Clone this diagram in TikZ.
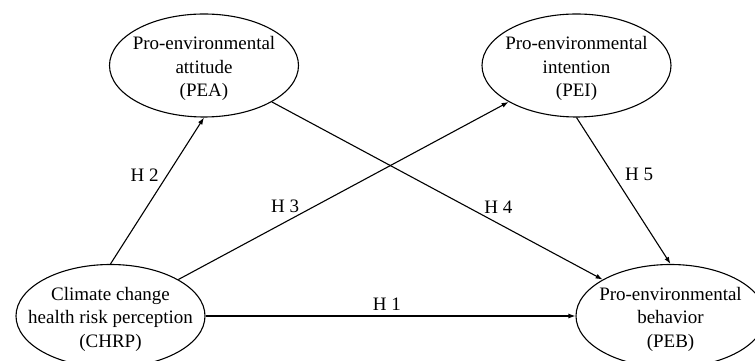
\documentclass[tikz,border=0pt]{standalone}
\usepackage{fontspec}
\setmainfont{Liberation Serif}
\usetikzlibrary{shapes.geometric, arrows.meta, positioning}

\tikzset{
  construct/.style={ellipse, draw, line width=1.1pt, minimum width=189pt, minimum height=103pt, inner sep=0pt},
  constructtext/.style={align=center, font=\fontsize{19}{23.5}\selectfont, inner sep=0pt, yshift=-3pt},
  hypo/.style={line width=1.1pt, -{Latex[length=7pt,width=5pt]}},
  hlabel/.style={font=\fontsize{19}{23}\selectfont, inner sep=1pt}
}

\begin{document}
\begin{tikzpicture}[x=1pt, y=1pt]
        \useasboundingbox (0,0) rectangle (755,361);
        \clip (0,0) rectangle (755,361);

        % Constructen
        \node[construct] (pea) at (204,295.5) {};
        \node[construct] (pei) at (576.5,295.5) {};
        \node[construct] (chrp) at (110.5,45) {};
        \node[construct] (peb) at (670.5,45) {};

        % Teksten in de ellipsen
        \node[constructtext] (pea-txt) at (pea) {Pro-environmental\\attitude\\(PEA)};
        \node[constructtext] (pei-txt) at (pei) {Pro-environmental\\intention\\(PEI)};
        \node[constructtext] (chrp-txt) at (chrp) {Climate change\\health risk perception\\(CHRP)};
        \node[constructtext] (peb-txt) at (peb) {Pro-environmental\\behavior\\(PEB)};

        % Hypothesen
        \draw[hypo] (chrp) -- (peb) node[hlabel, pos=0.49, above=4pt] {H 1};
        \draw[hypo] (chrp.north) -- (pea.south) node[hlabel, pos=0.606, left=7pt] {H 2};
        \draw[hypo] (chrp) -- (pei) node[hlabel, pos=0.37, anchor=south east] {H 3};
        \draw[hypo] (pea) -- (peb) node[hlabel, pos=0.638, anchor=south west] {H 4};
        \draw[hypo] (pei.south) -- (peb.north) node[hlabel, pos=0.385, right=11pt] {H 5};

    \end{tikzpicture}
\end{document}
